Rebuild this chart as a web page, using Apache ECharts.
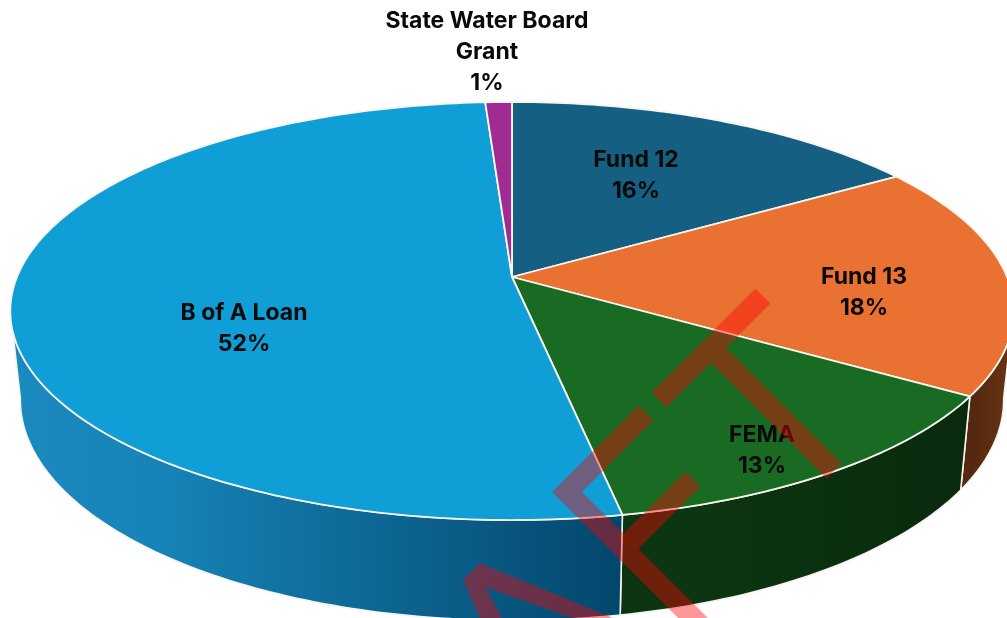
<!DOCTYPE html>
<html>
<head>
<meta charset="utf-8">
<style>
  html, body { margin: 0; padding: 0; background: #fff; }
  #chart { width: 1007px; height: 618px; }
</style>
<script src="https://cdn.jsdelivr.net/npm/echarts@6/dist/echarts.min.js"></script>
</head>
<body>
<div id="chart"></div>
<script>
// Funding sources, clockwise from twelve o'clock
const categories = ['Fund 12', 'Fund 13', 'FEMA', 'B of A Loan', 'State Water Board\nGrant'];
const shares = [16, 18, 13, 52, 1];

const topColors = ['#156082', '#E97132', '#196B24', '#0F9ED5', '#A02B93'];

// Wall shading per slice: [colour at left, colour at right] across the slice's width
const wallColors = [
  ['#0b3a50', '#0b3a50'],
  ['#55290f', '#6a3313'],
  ['#0c3511', '#0a2a0d'],
  ['#1b8abf', '#03466c'],
  ['#611a59', '#611a59']
];

// Label centres on the page
const labelCentres = [[636, 176], [864, 293], [762, 451], [244, 329], [487, 52]];

// Perspective of the tilted disc
const APEX_X = 512, APEX_Y = 277;
const REACH_X = 495, REACH_Y = 203.5, TILT = 0.1627;
// Lower rim of the wall relative to the upper rim
const WALL_DROP = 87, WALL_SCALE_X = 0.98, WALL_SCALE_Y = 1.055;
// Range of angles (degrees clockwise from top) where the wall faces the viewer
const WALL_FROM = 99, WALL_TO = 261;

const total = shares.reduce((a, b) => a + b, 0);
const cumulative = [];
shares.reduce((sum, v, i) => { cumulative[i] = sum; return sum + v; }, 0);

function rimOffset(deg) {
  const t = deg * Math.PI / 180;
  const u = Math.sin(t), v = -Math.cos(t);
  const w = 1 - TILT * v;
  return [REACH_X * u / w, REACH_Y * v / w];
}
function topRim(deg) {
  const o = rimOffset(deg);
  return [APEX_X + o[0], APEX_Y + o[1]];
}
function bottomRim(deg) {
  const o = rimOffset(deg);
  return [APEX_X + o[0] * WALL_SCALE_X, APEX_Y + WALL_DROP + o[1] * WALL_SCALE_Y];
}
function sweep(from, to, fn) {
  const pts = [];
  const steps = Math.max(2, Math.ceil(Math.abs(to - from)));
  for (let i = 0; i <= steps; i++) pts.push(fn(from + (to - from) * i / steps));
  return pts;
}
function sliceAngles(i) {
  return [cumulative[i] / total * 360, (cumulative[i] + shares[i]) / total * 360];
}

function renderWall(params, api) {
  const i = params.dataIndex;
  const [a0, a1] = sliceAngles(i);
  const from = Math.max(a0, WALL_FROM), to = Math.min(a1, WALL_TO);
  if (to <= from) return { type: 'group', children: [] };
  const upper = sweep(from, to, topRim);
  const lower = sweep(from, to, bottomRim).reverse();
  const points = upper.concat(lower);
  const xs = points.map(p => p[0]);
  const x0 = Math.min.apply(null, xs), x1 = Math.max.apply(null, xs);
  return {
    type: 'polygon',
    shape: { points },
    style: {
      fill: new echarts.graphic.LinearGradient(x0, 0, x1, 0, [
        { offset: 0, color: wallColors[i][0] },
        { offset: 0.25, color: i === 3 ? '#1683b6' : wallColors[i][0] },
        { offset: 1, color: wallColors[i][1] }
      ], true),
      stroke: '#f4f4f0',
      lineWidth: 1.6
    }
  };
}

function renderTop(params, api) {
  const i = params.dataIndex;
  const [a0, a1] = sliceAngles(i);
  const points = [[APEX_X, APEX_Y]].concat(sweep(a0, a1, topRim));
  return {
    type: 'polygon',
    shape: { points },
    style: { fill: topColors[i], stroke: '#f6f6ee', lineWidth: 1.8, lineJoin: 'round' }
  };
}

function renderLabel(params, api) {
  const i = params.dataIndex;
  return {
    type: 'text',
    style: {
      x: labelCentres[i][0],
      y: labelCentres[i][1],
      text: categories[i] + '\n' + shares[i] + '%',
      align: 'center',
      verticalAlign: 'middle',
      fill: '#0a0a0a',
      font: '700 23px Inter, sans-serif',
      lineHeight: 31
    }
  };
}

const chart = echarts.init(document.getElementById('chart'), null, { renderer: 'canvas' });

const sliceData = categories.map((name, i) => ({ name, value: shares[i] }));
const inkBand = { stroke: 'rgba(255,0,0,0.4)', fill: 'none', lineWidth: 21, lineCap: 'butt', lineJoin: 'miter', miterLimit: 4 };

chart.setOption({
  animation: false,
  backgroundColor: '#ffffff',
  series: [
    { type: 'custom', coordinateSystem: 'none', z: 1, data: sliceData, renderItem: renderWall, silent: true },
    { type: 'custom', coordinateSystem: 'none', z: 2, data: sliceData, renderItem: renderTop, silent: true },
    { type: 'custom', coordinateSystem: 'none', z: 3, data: sliceData, renderItem: renderLabel, silent: true }
  ],
  // Translucent red stamp across the lower right of the disc
  graphic: [
    { type: 'polyline', z: 100, silent: true, shape: { points: [[763, 296], [659, 400]] }, style: inkBand },
    { type: 'polyline', z: 100, silent: true, shape: { points: [[718.5, 355.5], [834, 471]] }, style: inkBand },
    { type: 'polyline', z: 100, silent: true, shape: { points: [[646, 413], [567, 492], [705, 630]] }, style: inkBand },
    { type: 'polyline', z: 100, silent: true, shape: { points: [[693, 479], [630.5, 541.5]] }, style: inkBand },
    {
      type: 'polygon', z: 100, silent: true,
      shape: { points: [[480, 563], [463, 580], [480, 618], [502, 618], [485, 587], [572, 618], [613, 618]] },
      style: { fill: 'rgba(255,0,0,0.4)' }
    }
  ]
});
</script>
</body>
</html>
